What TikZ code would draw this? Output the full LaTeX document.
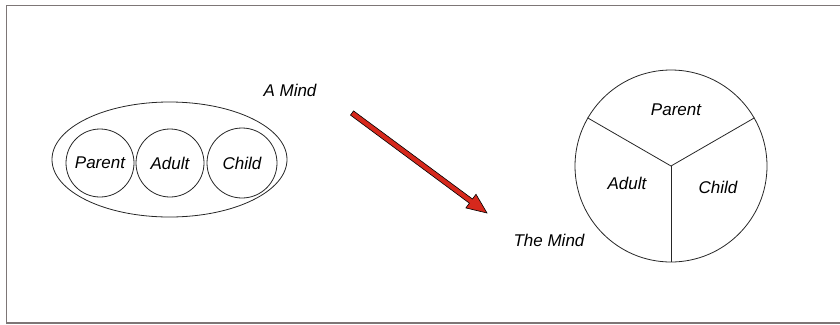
\documentclass[tikz,border=0pt]{standalone}
\usepackage{fontspec}
\setmainfont{Liberation Sans}
\usetikzlibrary{calc}
\definecolor{arrowred}{RGB}{214,40,28}
\definecolor{framegray}{RGB}{125,118,118}
\tikzset{
  statetext/.style={font=\fontsize{17bp}{20bp}\selectfont\itshape},
  ego/.style={draw=black!85, circle, minimum size=#1, inner sep=0pt, statetext},
}

\begin{document}
\begin{tikzpicture}[x=1bp,y=-1bp,line width=0.8bp]
  \useasboundingbox (0,0) rectangle (840,324);
  \draw[framegray, line width=1.5bp] (840,5.5) -- (6.5,5.5) -- (6.5,323) -- (840,323);
  % three states side by side in one mind
  \draw[black!85] (169.5,159.5) ellipse [x radius=117.5, y radius=57.5];
  \node[ego=68bp] (parent) at (100,163) {Parent};
  \node[ego=68bp] (adult) at (170,163) {Adult};
  \node[ego=70bp] (child) at (242,163) {Child};
  \node[statetext] (amind) at (290,90) {A Mind};
  % red arrow
  \coordinate (from) at (352,113);
  \coordinate (to) at (487,213);
  \coordinate (neck) at ($(to)!20bp!(from)$);
  \filldraw[fill=arrowred, draw=black, line width=0.6bp]
    ($(from)!2.6bp!90:(to)$) -- ($(neck)!2.6bp!90:(to)$) -- ($(neck)!8.5bp!90:(to)$)
    -- (to) -- ($(neck)!8.5bp!-90:(to)$) -- ($(neck)!2.6bp!-90:(to)$)
    -- ($(from)!2.6bp!-90:(to)$) -- cycle;
  % the mind cut in three
  \node[statetext] (themind) at (549,240) {The Mind};
  \node[ego=192bp] (mind) at (671,166) {};
  \draw[black!85] (mind.center) -- (mind.150);
  \draw[black!85] (mind.center) -- (mind.30);
  \draw[black!85] (mind.center) -- (mind.-90);
  \node[statetext] (mparent) at (676,110) {Parent};
  \node[statetext] (madult) at (627,183) {Adult};
  \node[statetext] (mchild) at (718,187) {Child};
\end{tikzpicture}
\end{document}
